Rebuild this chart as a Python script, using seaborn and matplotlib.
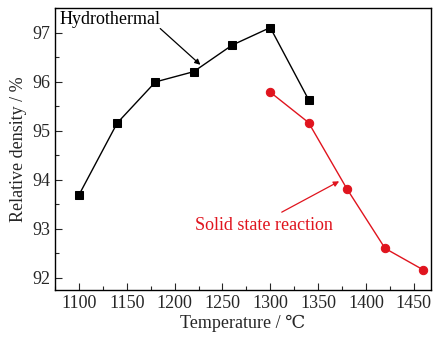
import matplotlib
matplotlib.use("Agg")
import matplotlib.pyplot as plt
import seaborn as sns
import pandas as pd
from matplotlib.ticker import MultipleLocator

hydro_temp = [1100, 1140, 1180, 1220, 1260, 1300, 1340]
hydro_density = [93.69, 95.16, 96.00, 96.21, 96.75, 97.11, 95.64]
solid_temp = [1300, 1340, 1380, 1420, 1460]
solid_density = [95.79, 95.17, 93.82, 92.60, 92.16]

x_ticks = [1100, 1150, 1200, 1250, 1300, 1350, 1400, 1450]
y_ticks = [92, 93, 94, 95, 96, 97]

sns.set_style("ticks")
plt.rcParams['font.family'] = ['Liberation Serif', 'DejaVu Serif']

df_h = pd.DataFrame({"Temperature": hydro_temp, "Density": hydro_density})
df_s = pd.DataFrame({"Temperature": solid_temp, "Density": solid_density})

red = "#e0141e"

fig = plt.figure(figsize=(4.47, 3.43), dpi=100)
ax = fig.add_axes([55/447, 1-290/343, (431-55)/447, (290-8)/343])

sns.lineplot(data=df_h, x="Temperature", y="Density", ax=ax, color="black",
             marker="s", markersize=5.5, markeredgecolor="black", linewidth=1.0)
sns.lineplot(data=df_s, x="Temperature", y="Density", ax=ax, color=red,
             marker="o", markersize=6, markeredgecolor=red, linewidth=1.0)

ax.set_xlim(1075, 1468)
ax.set_ylim(91.75, 97.51)
ax.set_xticks(x_ticks)
ax.set_yticks(y_ticks)
ax.xaxis.set_minor_locator(MultipleLocator(25))
ax.yaxis.set_minor_locator(MultipleLocator(0.5))
ax.tick_params(which='both', direction='in', top=False, right=False, labelsize=13)
ax.tick_params(which='major', length=5, width=0.8)
ax.tick_params(which='minor', length=3, width=0.8)
for s in ax.spines.values():
    s.set_color("black")
    s.set_linewidth(1.0)

ax.set_xlabel("Temperature / ℃", fontsize=13, labelpad=2)
ax.set_ylabel("Relative density / %", fontsize=13, labelpad=4)

ax.text(1080, 97.28, "Hydrothermal", fontsize=13, color="black",
        va="center", ha="left")
ax.annotate("", xy=(1227, 96.35), xytext=(1185, 97.09),
            arrowprops=dict(arrowstyle="-|>", color="black", lw=0.9,
                            shrinkA=0, shrinkB=0, mutation_scale=8))

ax.annotate("", xy=(1372, 93.97), xytext=(1312, 93.34),
            arrowprops=dict(arrowstyle="-|>", color=red, lw=0.9,
                            shrinkA=0, shrinkB=0, mutation_scale=8))
ax.text(1221, 93.07, "Solid state reaction", fontsize=13, color=red,
        va="center", ha="left")

fig.savefig("out.png", dpi=100)
